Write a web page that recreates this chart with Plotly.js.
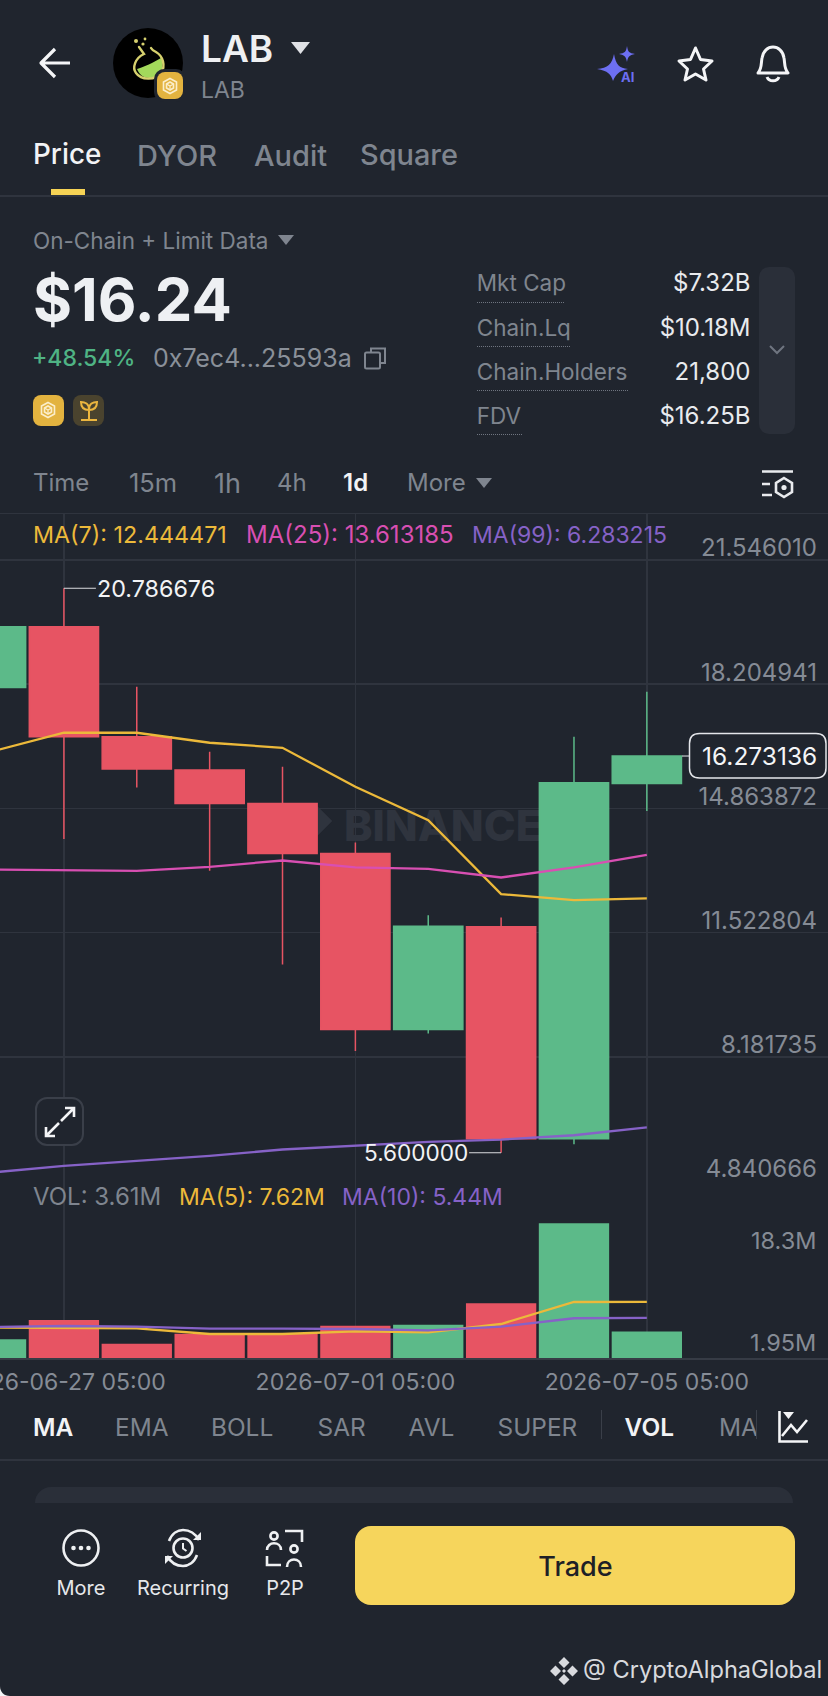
<!DOCTYPE html>
<html><head><meta charset="utf-8">
<script src="https://cdn.plot.ly/plotly-3.0.1.min.js"></script>
<style>
html,body{margin:0;padding:0;background:#20252e;width:828px;height:1696px;overflow:hidden;font-family:Inter,"Open Sans",sans-serif}
#wm,#chart,#ui{position:absolute;left:0;top:0;width:828px;height:1696px}
#wm{z-index:0}#chart{z-index:1}#ui{z-index:2;pointer-events:none}
.t{position:absolute;white-space:nowrap;line-height:1;transform:translateY(-50%)}
.b{position:absolute}
svg{position:absolute;overflow:visible}
</style></head><body>
<div id="wm"></div><div id="chart"></div><div id="ui"></div>
<script>
// ---- data ----
const dates=["2026-06-26 05:00","2026-06-27 05:00","2026-06-28 05:00","2026-06-29 05:00","2026-06-30 05:00","2026-07-01 05:00","2026-07-02 05:00","2026-07-03 05:00","2026-07-04 05:00","2026-07-05 05:00"];
const opens =[18.12,19.751,16.791,15.895,14.998,13.653,8.916,11.679,5.974,15.536];
const highs =[20.1,20.786676,18.137,16.388,15.984,13.948,11.993,11.93,16.791,18.002];
const lows  =[17.4,14.038,15.428,13.185,10.666,8.341,8.809,5.6,5.83,14.791];
const closes=[19.751,16.791,15.922,14.998,13.653,8.916,11.697,5.974,15.554,16.273136];
const ma7 =[16.388,16.899,16.899,16.63,16.495,15.446,14.549,12.558,12.396,12.444471];
const ma25=[13.221,13.21,13.185,13.293,13.463,13.276,13.239,13.006,13.276,13.613185];
const ma99=[5.068,5.246,5.381,5.516,5.688,5.796,5.892,5.956,6.072,6.283215];
const vols=[2.54,5.16,1.95,3.31,3.31,4.39,4.53,7.43,18.3,3.61];
const volMa5 =[4.12,4.12,4.03,3.26,3.26,3.62,3.49,4.62,7.61,7.62];
const volMa10=[4.21,4.35,4.26,3.99,3.99,3.94,3.76,4.26,5.40,5.44];
const priceTicks=[21.546010,18.204941,14.863872,11.522804,8.181735,4.840666];
const priceTickText=["21.546010","18.204941","14.863872","11.522804","8.181735","4.840666"];
const dateTicks=["2026-06-27 05:00","2026-07-01 05:00","2026-07-05 05:00"];
const volTickText=["18.3M","1.95M"];

const UP="#5cba89",DOWN="#e75463",YEL="#ecb93a",PINK="#d84fb2",PUR="#8662c7",GRID="#2f343e";
const W=828,H=1696,fx=x=>x/W,fy=y=>1-y/H;
const rr=(x0,y0,x1,y1,r)=>{const X=fx,Y=fy,rx=r;return `M ${X(x0+rx)} ${Y(y0)} L ${X(x1-rx)} ${Y(y0)} Q ${X(x1)} ${Y(y0)} ${X(x1)} ${Y(y0+rx)} L ${X(x1)} ${Y(y1-rx)} Q ${X(x1)} ${Y(y1)} ${X(x1-rx)} ${Y(y1)} L ${X(x0+rx)} ${Y(y1)} Q ${X(x0)} ${Y(y1)} ${X(x0)} ${Y(y1-rx)} L ${X(x0)} ${Y(y0+rx)} Q ${X(x0)} ${Y(y0)} ${X(x0+rx)} ${Y(y0)} Z`};
const FONT='Inter, "Open Sans", sans-serif';
const ln=(y,c,yaxis)=>({type:'scatter',mode:'lines',x:dates,y:y,line:{color:c,width:2.3},xaxis:'x',yaxis:yaxis,hoverinfo:'skip'});
const traces=[
 {type:'candlestick',x:dates,open:opens,high:highs,low:lows,close:closes,xaxis:'x',yaxis:'y',whiskerwidth:0,
  increasing:{line:{color:UP,width:1.5},fillcolor:UP},decreasing:{line:{color:DOWN,width:1.5},fillcolor:DOWN},hoverinfo:'skip'},
 ln(ma7,YEL,'y'),ln(ma25,PINK,'y'),ln(ma99,PUR,'y'),
 {type:'bar',x:dates,y:vols,xaxis:'x',yaxis:'y2',width:86400000*0.965,marker:{color:opens.map((o,i)=>closes[i]>=o?UP:DOWN),line:{width:0}},hoverinfo:'skip'},
 ln(volMa5,YEL,'y2'),ln(volMa10,PUR,'y2')
];
const layout={width:W,height:H,margin:{l:0,r:0,t:0,b:0},paper_bgcolor:'rgba(0,0,0,0)',plot_bgcolor:'rgba(0,0,0,0)',showlegend:false,boxgap:0.05,boxgroupgap:0,hovermode:false,
 font:{family:FONT,color:'#8b9099',size:22},
 xaxis:{type:'date',range:["2026-06-26 07:57","2026-07-07 16:40"],domain:[0,1],anchor:'y2',side:'bottom',rangeslider:{visible:false},
  tickmode:'array',tickvals:dateTicks,tickformat:'%Y-%m-%d %H:%M',ticks:'',ticklen:0,ticklabeloverflow:'allow',ticklabelstandoff:2,
  tickfont:{family:FONT,size:23,color:'#868c96'},showgrid:true,gridcolor:GRID,gridwidth:1.5,showline:true,linecolor:'#363b45',linewidth:2,zeroline:false},
 yaxis:{domain:[fy(1181),fy(513.3)],range:[4.840666,22.803],side:'right',anchor:'x',tickmode:'array',tickvals:priceTicks,ticktext:priceTickText,
  ticklabelposition:'inside',ticks:'',ticklabelshift:-12,ticklabelstandoff:8,ticklabeloverflow:'allow',tickfont:{family:FONT,size:24,color:'#858b95'},showgrid:true,gridcolor:GRID,gridwidth:1.5,zeroline:false,showline:false},
 yaxis2:{domain:[fy(1358),fy(1181)],range:[0,24.05],side:'right',anchor:'x',showticklabels:false,ticks:'',showgrid:false,zeroline:false,showline:false},
 shapes:[
  {type:'path',xref:'paper',yref:'paper',path:rr(689.5,733.5,826,778,10),fillcolor:'#20252e',line:{color:'#e4e6ea',width:1.5}},
  {type:'line',xref:'paper',yref:'y',x0:fx(682),x1:fx(689),y0:closes[9],y1:closes[9],line:{color:'#e4e6ea',width:1}}
 ],
 annotations:[
  {xref:'x',yref:'y',x:dates[1],y:highs[1],ax:32,ay:0,axref:'pixel',ayref:'pixel',xanchor:'left',yanchor:'middle',showarrow:true,arrowhead:0,arrowwidth:1.2,arrowcolor:'#d9dbdf',standoff:0,text:highs[1].toFixed(6),font:{family:FONT,size:23.3,color:'#f2f3f5'},borderpad:0},
  {xref:'x',yref:'y',x:dates[7],y:lows[7],ax:-32,ay:0,axref:'pixel',ayref:'pixel',xanchor:'right',yanchor:'middle',showarrow:true,arrowhead:0,arrowwidth:1.2,arrowcolor:'#d9dbdf',standoff:0,text:lows[7].toFixed(6),font:{family:FONT,size:22.6,color:'#f2f3f5'},borderpad:0},
  {xref:'paper',yref:'y',x:fx(817.5),y:closes[9],xanchor:'right',yanchor:'middle',showarrow:false,text:closes[9].toFixed(6),font:{family:FONT,size:24.5,color:'#f4f5f7'},borderpad:0},
  {xref:'paper',yref:'paper',x:fx(817),y:fy(1240),xanchor:'right',yanchor:'middle',showarrow:false,text:volTickText[0],font:{family:FONT,size:23.5,color:'#858b95'},borderpad:0},
  {xref:'paper',yref:'paper',x:fx(817),y:fy(1342),xanchor:'right',yanchor:'middle',showarrow:false,text:volTickText[1],font:{family:FONT,size:23.5,color:'#858b95'},borderpad:0}
 ]
};
Plotly.newPlot('chart',traces,layout,{staticPlot:true,displayModeBar:false});

// ---- app chrome ----
const ui=document.getElementById('ui'),wm=document.getElementById('wm');
const GR='#7f858f';
function T(x,y,s,size,color,weight,align,parent){const d=document.createElement('div');d.className='t';d.textContent=s;
 d.style.cssText+=`top:${y}px;font-size:${size}px;color:${color};font-weight:${weight||400};`+(align==='r'?`right:${W-x}px;`:align==='c'?`left:${x}px;transform:translate(-50%,-50%);`:`left:${x}px;`);(parent||ui).appendChild(d);return d}
function B(x0,y0,x1,y1,bg,r,extra){const d=document.createElement('div');d.className='b';d.style.cssText=`left:${x0}px;top:${y0}px;width:${x1-x0}px;height:${y1-y0}px;background:${bg};border-radius:${r||0};${extra||''}`;ui.appendChild(d);return d}
function S(x,y,w,h,inner,vb){const n=document.createElementNS('http://www.w3.org/2000/svg','svg');n.setAttribute('width',w);n.setAttribute('height',h);n.setAttribute('viewBox',vb||`0 0 ${w} ${h}`);n.style.left=x+'px';n.style.top=y+'px';n.innerHTML=inner;ui.appendChild(n);return n}
const hex=c=>`<path d="M8 1.5 L14.5 5 V13 L8 16.5 L1.5 13 V5 Z" fill="none" stroke="${c}" stroke-width="1.6"/><path d="M8 5 L11.5 7 V11 L8 13 L4.5 11 V7 Z" fill="none" stroke="${c}" stroke-width="1.6"/><path d="M8 9 V13 M4.5 7 L8 9 L11.5 7" fill="none" stroke="${c}" stroke-width="1.2"/>`;

// header
S(38,46,34,34,'<path d="M32 17 H3 M17 3 L3 17 L17 31" fill="none" stroke="#f4f5f7" stroke-width="3.2" stroke-linejoin="round"/>');
S(113,28,70,70,`<circle cx="35" cy="35" r="35" fill="#000"/>
 <path d="M24 41 C30 39 40 35 48 30 C53 40 46 50 36 50 C30 50 26 46 24 41 Z" fill="#a3d95b"/>
 <path d="M26 19 L31 26 C22 30 19 40 23 45 C28 52 42 53 48 45 C53 38 50 28 43 24 C41 23 39 22 38 20" fill="none" stroke="#d6d06e" stroke-width="2.4" stroke-linecap="round"/>
 <circle cx="23" cy="13" r="2" fill="#d6d06e"/><circle cx="30" cy="16" r="1.6" fill="#d6d06e"/><circle cx="32" cy="11" r="1.4" fill="#d6d06e"/>`);
B(154,69,186,102,'#20252e','10px');
B(157,72,183,99,'#e3b33f','8px');
S(162,77,16,18,hex('#fbeecb'));
T(201,48,'LAB',37,'#eef0f2',600);
S(291,42,19,12,'<path d="M0 0 H19 L9.5 12 Z" fill="#dfe1e5"/>');
T(201,90,'LAB',23,GR);
S(597,46,40,36,'<path d="M17 8 C19 19 22 22 31 23 C22 25 19 28 16 35 C14 28 11 25 0 23 C11 22 15 18 17 8 Z" fill="#6d6ff2"/><path d="M30 0 C31 6 32 7 38 8 C32 9 31 11 30 16 C29 11 28 9 22 8 C28 7 29 6 30 0 Z" fill="#6d6ff2"/><text x="24" y="36" font-size="13" font-weight="700" fill="#6d6ff2" font-family="Inter">AI</text>');
S(677,46,37,36,'<path d="M18.5 2 L23.5 13.5 L35 15 L26.5 23 L29 34 L18.5 28 L8 34 L10.5 23 L2 15 L13.5 13.5 Z" fill="none" stroke="#f4f5f7" stroke-width="3" stroke-linejoin="round"/>');
S(755,45,36,38,'<path d="M3 28 C7 24 6 18 7 13 C8 6 13 2 18 2 C23 2 28 6 29 13 C30 18 29 24 33 28 Z" fill="none" stroke="#f4f5f7" stroke-width="3" stroke-linejoin="round"/><path d="M12 32 C14 37 22 37 24 32" fill="none" stroke="#f4f5f7" stroke-width="3"/>');
// tabs
T(33,155,'Price',27.8,'#f2f3f5',500);T(137,155,'DYOR',29,GR,500);T(254,155,'Audit',29,GR,500);T(360,155,'Square',28.9,GR,500);
B(51,189,85,195,'#f6d355');B(0,195,828,196.5,'#2f343e');
// stats
T(33,240.7,'On-Chain + Limit Data',22.5,GR);
S(278,235,16,10,'<path d="M0 0 H16 L8 10 Z" fill="#7f858f"/>');
T(33,300,'$16.24',59.7,'#eef0f3',700);
T(32,357.7,'+48.54%',23,'#4fb384',500);
T(153,357.7,'0x7ec4...25593a',25,'#8a9099',400);
S(364,347,22,22,'<path d="M7 5 V1.5 H21 V16 H17" fill="none" stroke="#7f858f" stroke-width="2"/><rect x="1" y="5.5" width="15" height="16" rx="1.5" fill="none" stroke="#7f858f" stroke-width="2"/>');
B(33,395,64,426,'#e3b33f','8px');S(40,401,16,18,hex('#fbeecb'));
B(73,395,103.5,426,'#4a432e','8px');
S(79,400,20,22,'<path d="M10 8 V19 M2 20 H18 M10 10 C5 10 2 7 2 2 C6 2 10 4 10 9 C10 4 14 2 18 2 C18 7 15 10 10 10" fill="none" stroke="#ecb63f" stroke-width="2"/>');
const rows=[['Mkt Cap','$7.32B',283,302,87],['Chain.Lq','$10.18M',328,346,93],['Chain.Holders','21,800',372,390,151.5],['FDV','$16.25B',416,434,45]];
rows.forEach(r=>{T(476.8,r[2],r[0],22.5,GR);T(750.5,r[2],r[1],24,'#e9ebee',400,'r');B(476.8,r[3],476.8+r[4],r[3]+1.5,'transparent',0,'border-top:1.5px dotted #6f7580;height:0')});
B(759,267,795,434,'#2a2f39','10px');
S(769,345,16,10,'<path d="M1 1 L8 8 L15 1" fill="none" stroke="#6f7580" stroke-width="2"/>');
// timeframes
T(33,483.3,'Time',24,GR);T(129,483.3,'15m',25.5,GR);T(214,483.3,'1h',27,GR);T(277,483.3,'4h',24,GR);T(343,483.3,'1d',24,'#f2f3f5',600);T(407,483.3,'More',24,GR);
S(476,478,16,10,'<path d="M0 0 H16 L8 10 Z" fill="#7f858f"/>');
S(762,470,32,28,'<path d="M0 1.5 H31 M0 14 H8 M0 25 H10" stroke="#e9ebee" stroke-width="2.6" fill="none"/><path d="M22 8 L30 13 V22 L22 27 L14 22 V13 Z" fill="none" stroke="#e9ebee" stroke-width="2.6"/><circle cx="22" cy="17.5" r="2.6" fill="#e9ebee"/>');
B(0,512.5,828,514,'#2f343e');
// legends
T(33,535,'MA(7): 12.444471',23.3,YEL);T(246,535,'MA(25): 13.613185',24,PINK);T(472,535,'MA(99): 6.283215',23,PUR);
T(33,1197,'VOL: 3.61M',24,GR);T(179,1197,'MA(5): 7.62M',23,YEL);T(342,1197,'MA(10): 5.44M',23,PUR);
// expand
B(35,1097,84,1146,'#20252e','12px','border:2px solid #3a3f49;box-sizing:border-box');
S(44,1106,32,32,'<path d="M17 15 L30 2 M21 2 H30 V11 M15 17 L2 30 M2 21 V30 H11" fill="none" stroke="#f4f5f7" stroke-width="2.6"/>');
// indicator tabs
const it=[['MA',33,'#f2f3f5',600],['EMA',115,GR,400],['BOLL',211,GR,400],['SAR',317.5,GR,400],['AVL',408.5,GR,400],['SUPER',497.5,GR,400],['VOL',624.6,'#f2f3f5',600]];
it.forEach(a=>T(a[1],1426.7,a[0],24.4,a[2],a[3]));
B(601,1410,602,1439,'#3a3f49');
const ma2=document.createElement('div');ma2.style.cssText='position:absolute;left:719px;top:1410px;width:37px;height:34px;overflow:hidden';ui.appendChild(ma2);
const mt=T(0,17,'MA',24.4,GR,400,'l',ma2);
B(756,1410,757,1439,'#3a3f49');
S(778,1411,30,32,'<path d="M1.5 0 V30.5 H30" fill="none" stroke="#f4f5f7" stroke-width="2.6"/><path d="M4 25 L13 14 L19 21 L29 9" fill="none" stroke="#f4f5f7" stroke-width="2.6"/><path d="M5 1 H16 L10.5 8 Z" fill="#f4f5f7"/>');
B(0,1459,828,1460.5,'#2f343e');
B(35,1486.7,793,1503.5,'#2a2f39','20px 20px 0 0');
// bottom bar
S(62,1529,38,38,'<circle cx="19" cy="19" r="17.5" fill="none" stroke="#eef0f2" stroke-width="2.6"/><circle cx="11.5" cy="19" r="2.3" fill="#eef0f2"/><circle cx="19" cy="19" r="2.3" fill="#eef0f2"/><circle cx="26.5" cy="19" r="2.3" fill="#eef0f2"/>');
S(164,1528,38,40,'<circle cx="19" cy="20" r="9.5" fill="none" stroke="#eef0f2" stroke-width="2.6"/><path d="M19 15 V20.5 L22.5 23" fill="none" stroke="#eef0f2" stroke-width="2"/><path d="M5 13 C8 5 14 2 19 2 C25 2 31 5 35 12 M33 27 C30 35 24 38 19 38 C13 38 7 35 3 28" fill="none" stroke="#eef0f2" stroke-width="2.6"/><path d="M29 12 H37 V4 Z M9 28 H1 V36 Z" fill="#eef0f2"/>');
S(266,1529,38,38,'<circle cx="8" cy="7" r="3.6" fill="none" stroke="#eef0f2" stroke-width="2.6"/><circle cx="28" cy="20" r="3.6" fill="none" stroke="#eef0f2" stroke-width="2.6"/><path d="M1 21 C1 12 15 12 15 21 M21 38 C21 28 35 28 35 38" fill="none" stroke="#eef0f2" stroke-width="2.6"/><path d="M19 2 H36 V13 M1 27 V36 H15" fill="none" stroke="#eef0f2" stroke-width="2.6"/>');
T(81,1588,'More',20,'#e6e8eb',400,'c');T(183,1588,'Recurring',20,'#e6e8eb',400,'c');T(285,1588,'P2P',20,'#e6e8eb',400,'c');
B(355,1526,795,1605,'#f6d55c','16px');
T(575.5,1566,'Trade',27,'#1e2026',500,'c');
S(550,1657,28,28,'<path d="M14 0 L19.5 5.5 L14 11 L8.5 5.5 Z M5.5 8.5 L11 14 L5.5 19.5 L0 14 Z M22.5 8.5 L28 14 L22.5 19.5 L17 14 Z M14 17 L19.5 22.5 L14 28 L8.5 22.5 Z M14 12 L16 14 L14 16 L12 14 Z" fill="#d8dade"/>');
T(583,1670,'@ CryptoAlphaGlobal',23.6,'#d8dade');
// rounded bottom-left corner of the screenshot
S(0,1686,10,10,'<path d="M0 0 C0 6 4 10 10 10 H0 Z" fill="#f4f5f7"/>');
// watermark under the chart
T(344,825,'BINANCE',43,'#2f343e',800,'l',wm);
const wd=document.createElement('div');wd.style.cssText='position:absolute;left:302px;top:806px;width:30px;height:30px;background:#2f343e;transform:rotate(45deg) scale(.72)';wm.appendChild(wd);
</script></body></html>
